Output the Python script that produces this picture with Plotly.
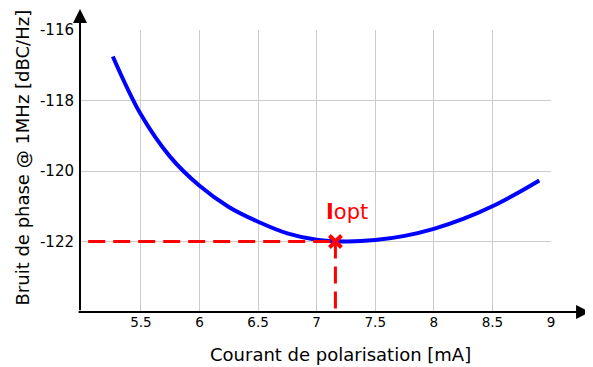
import plotly.graph_objects as go

# data
current_mA = [5.26, 5.5, 5.75, 6.0, 6.25, 6.5, 6.75, 7.0, 7.25, 7.5, 7.75, 8.0, 8.25, 8.5, 8.75, 8.9]
noise_dBc = [-116.75, -118.40, -119.60, -120.42, -121.02, -121.44, -121.77, -121.95, -122.0,
             -121.96, -121.84, -121.64, -121.36, -121.0, -120.56, -120.27]
x_ticks = [5.5, 6, 6.5, 7, 7.5, 8, 8.5, 9]
x_ticklabels = ["5.5", "6", "6.5", "7", "7.5", "8", "8.5", "9"]
y_ticks = [-122, -120, -118, -116]
y_ticklabels = ["-122", "-120", "-118", "-116"]
i_opt = 7.16
noise_opt = -122.0
x_range = [4.98, 9.0]
y_range = [-124, -116]

FONT = "DejaVu Sans"

fig = go.Figure()
fig.add_trace(go.Scatter(x=current_mA, y=noise_dBc, mode="lines",
                         line=dict(color="#0000ff", width=4, shape="spline", smoothing=1.0),
                         hoverinfo="skip", showlegend=False))
# dashed guides
fig.add_trace(go.Scatter(x=[5.05, i_opt], y=[noise_opt, noise_opt], mode="lines",
                         line=dict(color="#ff0000", width=3, dash="17px,8px"),
                         showlegend=False, hoverinfo="skip"))
fig.add_trace(go.Scatter(x=[i_opt, i_opt], y=[noise_opt, y_range[0]], mode="lines",
                         line=dict(color="#ff0000", width=3, dash="17px,8px"),
                         showlegend=False, hoverinfo="skip"))
fig.add_trace(go.Scatter(x=[i_opt], y=[noise_opt], mode="markers",
                         marker=dict(symbol="x-thin", size=12, color="#ff0000",
                                     line=dict(color="#ff0000", width=4)),
                         showlegend=False, hoverinfo="skip"))

fig.add_annotation(x=7.26, y=-121.15, xref="x", yref="y", text="<b>I</b>opt",
                   showarrow=False, font=dict(family=FONT, size=21, color="#ff0000"))

# axis titles
fig.add_annotation(x=0.553, y=-0.149, xref="paper", yref="paper", xanchor="center", yanchor="middle",
                   text="Courant de polarisation [mA]", showarrow=False,
                   font=dict(family=FONT, size=18, color="#000000"))
fig.add_annotation(x=-0.123, y=0.548, xref="paper", yref="paper", xanchor="center", yanchor="middle",
                   text="Bruit de phase @ 1MHz [dBC/Hz]", textangle=-90, showarrow=False,
                   font=dict(family=FONT, size=18, color="#000000"))

# axis arrows (tail offsets in pixels)
fig.add_annotation(x=1.083, y=0, xref="paper", yref="paper",
                   ax=-513, ay=0, axref="pixel", ayref="pixel",
                   showarrow=True, arrowhead=2, arrowsize=1.4, arrowwidth=2,
                   arrowcolor="#000000", text="")
fig.add_annotation(x=0, y=1.075, xref="paper", yref="paper",
                   ax=0, ay=303, axref="pixel", ayref="pixel",
                   showarrow=True, arrowhead=2, arrowsize=1.4, arrowwidth=2,
                   arrowcolor="#000000", text="")

fig.update_layout(
    width=585, height=359,
    margin=dict(l=72, r=42, t=22, b=55, autoexpand=False),
    paper_bgcolor="white", plot_bgcolor="white",
    font=dict(family=FONT, color="#000000"),
    xaxis=dict(range=x_range, tickvals=x_ticks, ticktext=x_ticklabels,
               showgrid=True, gridcolor="#cccccc", gridwidth=1, zeroline=False,
               showline=False, ticks="", tickfont=dict(size=13.5, family=FONT),
               automargin=False),
    yaxis=dict(range=y_range, tickvals=y_ticks, ticktext=y_ticklabels,
               showgrid=True, gridcolor="#cccccc", gridwidth=1, zeroline=False,
               showline=False, ticks="", tickfont=dict(size=15, family=FONT),
               ticklabelstandoff=5, automargin=False),
)

fig.write_html("out.html")
